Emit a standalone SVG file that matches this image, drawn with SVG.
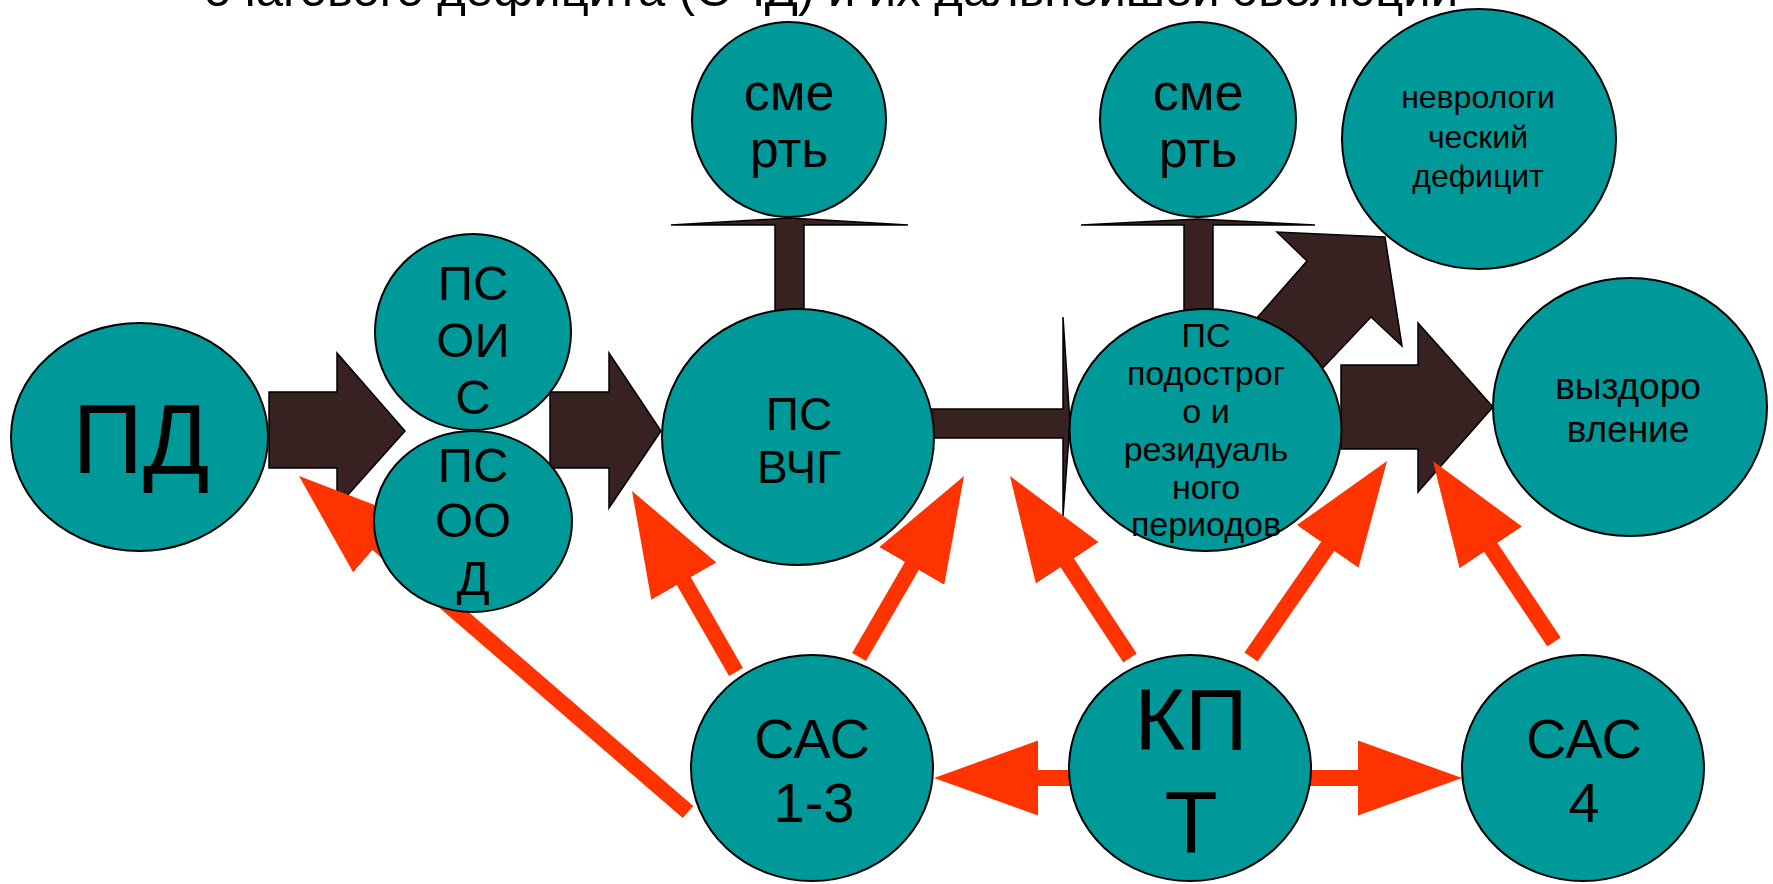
<svg xmlns="http://www.w3.org/2000/svg" width="1773" height="884" viewBox="0 0 1773 884">
  <style>
    .node { fill: #009999; stroke: #000; stroke-width: 2; }
    .lbl { font-family: "Liberation Sans", Arial, sans-serif; fill: #000; text-anchor: middle; }
    .block { fill: #372121; stroke: #000; stroke-width: 1.5; stroke-linejoin: miter; }
    .red { stroke: #ff3300; stroke-width: 16; fill: none; marker-end: url(#redHead); }
  </style>
  <defs>
    <!-- triangular head; the shaft stops 60px short of the tip -->
    <marker id="redHead" viewBox="0 0 104 75" refX="44" refY="37.5" markerWidth="104" markerHeight="75" markerUnits="userSpaceOnUse" orient="auto">
      <path d="M0,0 L104,37.5 L0,75 Z" fill="#ff3300"/>
    </marker>
  </defs>

  <rect width="1773" height="884" fill="#fff"/>

  <g id="title">
    <text class="lbl" x="831" y="6" font-size="48" textLength="1254" lengthAdjust="spacingAndGlyphs">очагового дефицита (ОЧД) и их дальнейшей эволюции</text>
  </g>

  <g id="connectors">
    <!-- dark block arrows -->
    <path class="block" d="M269,392 H337 V353 L405,431 L337,507 V468 H269 Z"/>
    <path class="block" d="M550,392 H609 V353 L661,431 L609,508 V468 H550 Z"/>
    <path class="block" d="M925,409 H1063 V317 L1070,423 L1063,516 V438 H925 Z"/>
    <path class="block" d="M1341,365 H1418 V323 L1493,407 L1418,492 V449 H1341 Z"/>
    <path class="block" d="M1307,261 L1277,232 L1385,237 L1402,346 L1371,317 L1302,390 L1241,336 Z"/>
    <path class="block" d="M775,320 V225 H671 L790,218 L908,225 H804 V320 Z"/>
    <path class="block" d="M1184,322 V225 H1081 L1198,219 L1315,225 H1213 V322 Z"/>
    <!-- red arrows -->
    <line class="red" x1="688" y1="812" x2="344.4" y2="515.2"/>
    <line class="red" x1="736" y1="672" x2="661.9" y2="543"/>
    <line class="red" x1="859" y1="657" x2="933.9" y2="527.9"/>
    <line class="red" x1="1130" y1="658" x2="1043" y2="526.1"/>
    <line class="red" x1="1251" y1="657" x2="1352.8" y2="510.3"/>
    <line class="red" x1="1554" y1="642" x2="1466.3" y2="510.9"/>
    <line class="red" x1="1075" y1="778" x2="994" y2="778"/>
    <line class="red" x1="1305" y1="778" x2="1402" y2="778"/>
  </g>

  <g id="pd">
    <ellipse class="node" cx="139.5" cy="437" rx="128.5" ry="114"/>
    <text class="lbl" x="141" y="473" font-size="98">ПД</text>
  </g>

  <g id="ps-ois">
    <ellipse class="node" cx="473" cy="332" rx="98" ry="98"/>
    <text class="lbl" font-size="49"><tspan x="473" y="300">ПС</tspan><tspan x="473" y="357">ОИ</tspan><tspan x="473" y="414">С</tspan></text>
  </g>

  <g id="ps-ood">
    <ellipse class="node" cx="473" cy="521.5" rx="99" ry="90.5"/>
    <text class="lbl" font-size="49"><tspan x="473" y="482">ПС</tspan><tspan x="473" y="537">ОО</tspan><tspan x="473" y="595">Д</tspan></text>
  </g>

  <g id="ps-vchg">
    <ellipse class="node" cx="798" cy="437" rx="136" ry="128"/>
    <text class="lbl" font-size="46"><tspan x="799" y="430">ПС</tspan><tspan x="799" y="483">ВЧГ</tspan></text>
  </g>

  <g id="death-1">
    <ellipse class="node" cx="789" cy="119.5" rx="97" ry="97.5"/>
    <text class="lbl" font-size="52"><tspan x="789" y="110">сме</tspan><tspan x="789" y="167">рть</tspan></text>
  </g>

  <g id="death-2">
    <ellipse class="node" cx="1198" cy="119.5" rx="98" ry="97.5"/>
    <text class="lbl" font-size="52"><tspan x="1198" y="110">сме</tspan><tspan x="1198" y="167">рть</tspan></text>
  </g>

  <g id="ps-subacute">
    <ellipse class="node" cx="1205.5" cy="430" rx="136" ry="121"/>
    <text class="lbl" font-size="34"><tspan x="1206" y="347">ПС</tspan><tspan x="1206" y="385">подострог</tspan><tspan x="1206" y="423">о и</tspan><tspan x="1206" y="461">резидуаль</tspan><tspan x="1206" y="499">ного</tspan><tspan x="1206" y="536">периодов</tspan></text>
  </g>

  <g id="neuro-deficit">
    <ellipse class="node" cx="1479" cy="139" rx="137" ry="130"/>
    <text class="lbl" font-size="32"><tspan x="1478" y="108">неврологи</tspan><tspan x="1478" y="148">ческий</tspan><tspan x="1478" y="187">дефицит</tspan></text>
  </g>

  <g id="recovery">
    <ellipse class="node" cx="1630" cy="407" rx="137" ry="129"/>
    <text class="lbl" font-size="37"><tspan x="1628" y="399">выздоро</tspan><tspan x="1628" y="442">вление</tspan></text>
  </g>

  <g id="sas-1-3">
    <ellipse class="node" cx="812" cy="768" rx="121" ry="113"/>
    <text class="lbl" font-size="56"><tspan x="812" y="758">САС</tspan><tspan x="814" y="822">1-3</tspan></text>
  </g>

  <g id="kpt">
    <ellipse class="node" cx="1190" cy="768" rx="121" ry="113"/>
    <text class="lbl" font-size="87"><tspan x="1191" y="750">КП</tspan><tspan x="1191" y="852">Т</tspan></text>
  </g>

  <g id="sas-4">
    <ellipse class="node" cx="1583" cy="768" rx="121" ry="113"/>
    <text class="lbl" font-size="56"><tspan x="1584" y="758">САС</tspan><tspan x="1584" y="822">4</tspan></text>
  </g>
</svg>
